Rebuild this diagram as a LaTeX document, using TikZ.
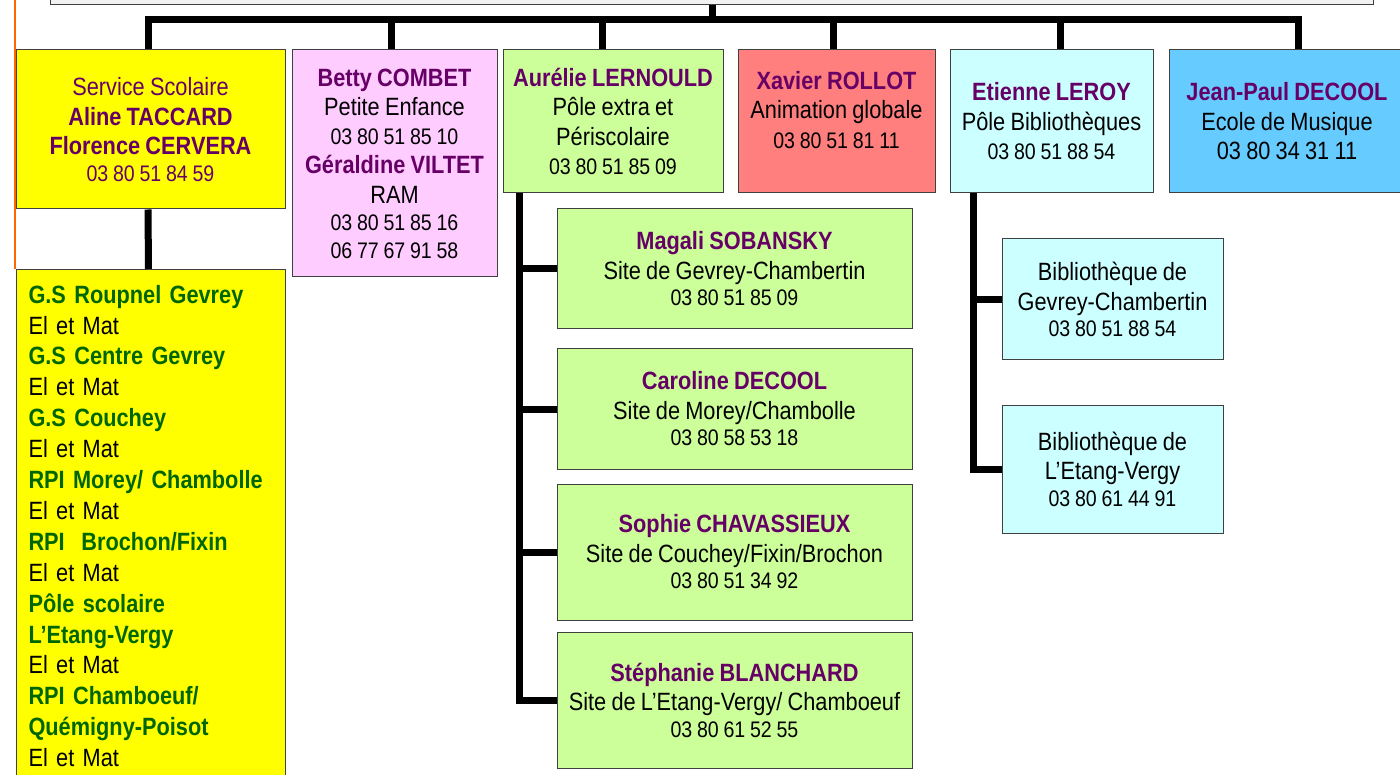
\documentclass[tikz,border=0pt]{standalone}
\usepackage{fontspec}
\setmainfont[FakeStretch=0.87, WordSpace=0.87]{Liberation Sans}

\definecolor{titre}{HTML}{660066}
\definecolor{vertecole}{HTML}{006600}
\definecolor{jaune}{HTML}{FFFF00}
\definecolor{rose}{HTML}{FFCCFF}
\definecolor{vertclair}{HTML}{CCFF99}
\definecolor{saumon}{HTML}{FF7F7F}
\definecolor{cyanclair}{HTML}{CCFFFF}
\definecolor{bleuciel}{HTML}{66CCFF}
\definecolor{grisclair}{HTML}{F2F2F2}
\definecolor{orangebord}{HTML}{FF6600}

\newcommand{\chef}[1]{{\bfseries\color{titre}#1}}
\newcommand{\numtel}[1]{{\fontsize{22.5}{27}\selectfont #1}}
\newcommand{\ecole}[1]{{\bfseries\color{vertecole}#1}}

\begin{document}
\begin{tikzpicture}[x=1pt, y=-1pt,
    boite/.style={shape=rectangle, draw=black!75, line width=1pt, align=center, inner sep=0pt,
        font=\fontsize{25}{29.5}\selectfont},
    lien/.style={line width=7pt, draw=black}]

    \useasboundingbox (0,0) rectangle (1400,775);

    \draw[draw=orangebord, line width=2pt] (15,0) -- (15,269);

    \node[boite, fill=grisclair, minimum width=1323pt, minimum height=40pt, anchor=south west] (Direction) at (50,5) {};

    \node[boite, fill=jaune, text=titre, minimum width=269pt, minimum height=159pt] (Scol) at (150.5,129.5) {
        Service Scolaire \\
        \textbf{Aline TACCARD} \\
        \textbf{Florence CERVERA} \\[-3pt]
        \numtel{03 80 51 84 59}
    };

    \node[boite, fill=rose, minimum width=205pt, minimum height=227pt] (Betty) at (394.5,163.5) {
        \chef{Betty COMBET} \\
        Petite Enfance \\[-1pt]
        \numtel{03 80 51 85 10} \\
        \chef{Géraldine VILTET} \\
        RAM \\[-2pt]
        \numtel{03 80 51 85 16} \\[-2pt]
        \numtel{06 77 67 91 58}
    };

    \node[boite, fill=vertclair, minimum width=220pt, minimum height=143pt] (Aurel) at (613,121.5) {
        \chef{Aurélie LERNOULD} \\
        Pôle extra et \\
        Périscolaire \\
        \numtel{03 80 51 85 09}
    };

    \node[boite, fill=saumon, minimum width=197pt, minimum height=143pt, text depth=24pt] (Xavier) at (836.5,121.5) {
        \chef{Xavier ROLLOT} \\
        Animation globale \\
        \numtel{03 80 51 81 11}
    };

    \node[boite, fill=cyanclair, minimum width=203pt, minimum height=143pt] (Etienne) at (1051.5,121.5) {
        \chef{Etienne LEROY} \\
        Pôle Bibliothèques \\
        \numtel{03 80 51 88 54}
    };

    \node[boite, fill=bleuciel, minimum width=236pt, minimum height=143pt] (JeanPaul) at (1287,121.5) {
        \chef{Jean-Paul DECOOL} \\
        Ecole de Musique \\
        03 80 34 31 11
    };

    \node[boite, fill=jaune, anchor=north west, text width=245pt, align=left, inner xsep=12pt, inner ysep=15.5pt,
        font=\fontsize{25}{30.9}\selectfont] (Ecoles) at (16,269) {
        \ecole{G.S Roupnel Gevrey}\\
        El et Mat\\
        \ecole{G.S Centre Gevrey}\\
        El et Mat\\
        \ecole{G.S Couchey}\\
        El et Mat\\
        \ecole{RPI Morey/ Chambolle}\\
        El et Mat\\
        \ecole{RPI\ \ Brochon/Fixin}\\
        El et Mat\\
        \ecole{Pôle scolaire}\\
        \ecole{L’Etang-Vergy}\\
        El et Mat\\
        \ecole{RPI Chamboeuf/}\\
        \ecole{Quémigny-Poisot}\\
        El et Mat
    };

    \node[boite, fill=vertclair, minimum width=355pt, minimum height=120pt] (Magali) at (734.5,269) {
        \chef{Magali SOBANSKY} \\
        Site de Gevrey-Chambertin \\[-3pt]
        \numtel{03 80 51 85 09}
    };

    \node[boite, fill=vertclair, minimum width=355pt, minimum height=120pt] (Caroline) at (734.5,409) {
        \chef{Caroline DECOOL} \\
        Site de Morey/Chambolle \\[-3pt]
        \numtel{03 80 58 53 18}
    };

    \node[boite, fill=vertclair, minimum width=355pt, minimum height=136pt] (Sophie) at (734.5,552) {
        \chef{Sophie CHAVASSIEUX} \\
        Site de Couchey/Fixin/Brochon \\[-3pt]
        \numtel{03 80 51 34 92}
    };

    \node[boite, fill=vertclair, minimum width=355pt, minimum height=136pt] (Stephanie) at (734.5,700) {
        \chef{Stéphanie BLANCHARD} \\
        Site de L’Etang-Vergy/ Chamboeuf \\[-3pt]
        \numtel{03 80 61 52 55}
    };

    \node[boite, fill=cyanclair, minimum width=221pt, minimum height=121pt] (BibGevrey) at (1112.5,299.5) {
        Bibliothèque de \\
        Gevrey-Chambertin \\[-3pt]
        \numtel{03 80 51 88 54}
    };

    \node[boite, fill=cyanclair, minimum width=221pt, minimum height=128pt] (BibEtang) at (1112.5,469) {
        Bibliothèque de \\
        L’Etang-Vergy \\[-3pt]
        \numtel{03 80 61 44 91}
    };

    % liens
    \draw[lien] (Direction.south) -- ++(0,15) -| ([xshift=-2.5pt]Scol.north);
    \draw[lien] (Direction.south) -- ++(0,15) -| ([xshift=-3.5pt]Betty.north);
    \draw[lien] (Direction.south) -- ++(0,15) -| ([xshift=-11pt]Aurel.north);
    \draw[lien] (Direction.south) -- ++(0,15) -| ([xshift=-3.5pt]Xavier.north);
    \draw[lien] (Direction.south) -- ++(0,15) -| ([xshift=8.5pt]Etienne.north);
    \draw[lien] (Direction.south) -- ++(0,15) -| ([xshift=11pt]JeanPaul.north);

    \path[lien] ([xshift=-2.5pt]Scol.south) edge ([xshift=-2.5pt]Ecoles.north);

    \draw[lien] ([xshift=-94pt]Aurel.south) |- (Magali);
    \draw[lien] ([xshift=-94pt]Aurel.south) |- (Caroline);
    \draw[lien] ([xshift=-94pt]Aurel.south) |- (Sophie);
    \draw[lien] ([xshift=-94pt]Aurel.south) |- (Stephanie);

    \draw[lien] ([xshift=-78.5pt]Etienne.south) |- (BibGevrey);
    \draw[lien] ([xshift=-78.5pt]Etienne.south) |- (BibEtang);

\end{tikzpicture}
\end{document}
